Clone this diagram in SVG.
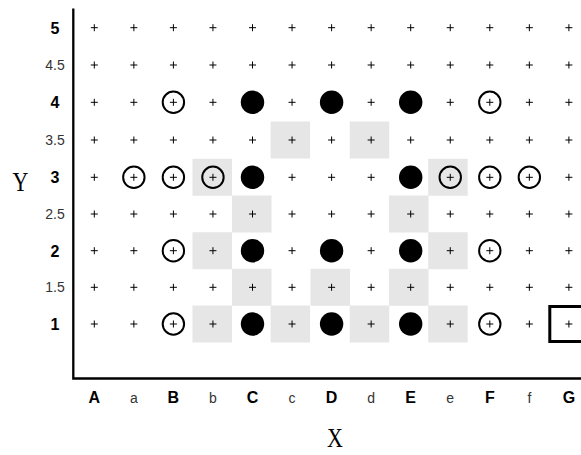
<svg xmlns="http://www.w3.org/2000/svg" xmlns:xlink="http://www.w3.org/1999/xlink" width="581" height="455" viewBox="0 0 581 455">
<style>
.g{fill:#e6e6e6}
.b{fill:#000}
.o{fill:none;stroke:#000;stroke-width:2}
.ax{stroke:#000;stroke-width:2.3;fill:none}
.maj{font-family:"Liberation Sans",Arial,sans-serif;font-weight:bold;font-size:16px;fill:#000;text-anchor:middle}
.min{font-family:"Liberation Sans",Arial,sans-serif;font-size:14px;fill:#333;text-anchor:middle}
.ttl{font-family:"Liberation Serif","Times New Roman",serif;font-size:22px;fill:#000;text-anchor:middle}
</style>
<defs>
<path id="p" d="M-3.5,0H3.5M0,-3.5V3.5" stroke="#000" stroke-width="1" fill="none"/>
</defs>
<rect width="581" height="455" fill="#fff"/>
<g id="shading">
<rect class="g" x="270.6" y="121.5" width="39.5" height="37"/>
<rect class="g" x="349.7" y="121.5" width="39.5" height="37"/>
<rect class="g" x="192.5" y="158.8" width="39.5" height="37"/>
<rect class="g" x="428.2" y="158.8" width="39.5" height="37"/>
<rect class="g" x="232" y="195.5" width="39.5" height="37"/>
<rect class="g" x="389" y="195.5" width="39.5" height="37"/>
<rect class="g" x="192.5" y="232.2" width="39.5" height="37"/>
<rect class="g" x="428.2" y="232.2" width="39.5" height="37"/>
<rect class="g" x="232" y="268.8" width="39.5" height="37"/>
<rect class="g" x="310.5" y="268.8" width="39.5" height="37"/>
<rect class="g" x="389" y="268.8" width="39.5" height="37"/>
<rect class="g" x="192.5" y="305.5" width="39.5" height="37"/>
<rect class="g" x="270.6" y="305.5" width="39.5" height="37"/>
<rect class="g" x="349.7" y="305.5" width="39.5" height="37"/>
<rect class="g" x="428.2" y="305.5" width="39.5" height="37"/>
</g>
<g id="grid">
<g transform="translate(94.3,0)"><use href="#p" y="27.7"/><use href="#p" y="65"/><use href="#p" y="102.3"/><use href="#p" y="140"/><use href="#p" y="177.3"/><use href="#p" y="214"/><use href="#p" y="250.7"/><use href="#p" y="287.3"/><use href="#p" y="324"/></g>
<g transform="translate(133.85,0)"><use href="#p" y="27.7"/><use href="#p" y="65"/><use href="#p" y="102.3"/><use href="#p" y="140"/><use href="#p" y="177.3"/><use href="#p" y="214"/><use href="#p" y="250.7"/><use href="#p" y="287.3"/><use href="#p" y="324"/></g>
<g transform="translate(173.4,0)"><use href="#p" y="27.7"/><use href="#p" y="65"/><use href="#p" y="102.3"/><use href="#p" y="140"/><use href="#p" y="177.3"/><use href="#p" y="214"/><use href="#p" y="250.7"/><use href="#p" y="287.3"/><use href="#p" y="324"/></g>
<g transform="translate(212.95,0)"><use href="#p" y="27.7"/><use href="#p" y="65"/><use href="#p" y="102.3"/><use href="#p" y="140"/><use href="#p" y="177.3"/><use href="#p" y="214"/><use href="#p" y="250.7"/><use href="#p" y="287.3"/><use href="#p" y="324"/></g>
<g transform="translate(252.5,0)"><use href="#p" y="27.7"/><use href="#p" y="65"/><use href="#p" y="140"/><use href="#p" y="214"/><use href="#p" y="287.3"/></g>
<g transform="translate(292.05,0)"><use href="#p" y="27.7"/><use href="#p" y="65"/><use href="#p" y="102.3"/><use href="#p" y="140"/><use href="#p" y="177.3"/><use href="#p" y="214"/><use href="#p" y="250.7"/><use href="#p" y="287.3"/><use href="#p" y="324"/></g>
<g transform="translate(331.6,0)"><use href="#p" y="27.7"/><use href="#p" y="65"/><use href="#p" y="140"/><use href="#p" y="177.3"/><use href="#p" y="214"/><use href="#p" y="287.3"/></g>
<g transform="translate(371.15,0)"><use href="#p" y="27.7"/><use href="#p" y="65"/><use href="#p" y="102.3"/><use href="#p" y="140"/><use href="#p" y="177.3"/><use href="#p" y="214"/><use href="#p" y="250.7"/><use href="#p" y="287.3"/><use href="#p" y="324"/></g>
<g transform="translate(410.7,0)"><use href="#p" y="27.7"/><use href="#p" y="65"/><use href="#p" y="140"/><use href="#p" y="214"/><use href="#p" y="287.3"/></g>
<g transform="translate(450.25,0)"><use href="#p" y="27.7"/><use href="#p" y="65"/><use href="#p" y="102.3"/><use href="#p" y="140"/><use href="#p" y="177.3"/><use href="#p" y="214"/><use href="#p" y="250.7"/><use href="#p" y="287.3"/><use href="#p" y="324"/></g>
<g transform="translate(489.8,0)"><use href="#p" y="27.7"/><use href="#p" y="65"/><use href="#p" y="102.3"/><use href="#p" y="140"/><use href="#p" y="177.3"/><use href="#p" y="214"/><use href="#p" y="250.7"/><use href="#p" y="287.3"/><use href="#p" y="324"/></g>
<g transform="translate(529.35,0)"><use href="#p" y="27.7"/><use href="#p" y="65"/><use href="#p" y="102.3"/><use href="#p" y="140"/><use href="#p" y="177.3"/><use href="#p" y="214"/><use href="#p" y="250.7"/><use href="#p" y="287.3"/><use href="#p" y="324"/></g>
<g transform="translate(568.9,0)"><use href="#p" y="27.7"/><use href="#p" y="65"/><use href="#p" y="102.3"/><use href="#p" y="140"/><use href="#p" y="177.3"/><use href="#p" y="214"/><use href="#p" y="250.7"/><use href="#p" y="287.3"/><use href="#p" y="324"/></g>
</g>
<g id="filled">
<circle class="b" cx="252.5" cy="102.3" r="11.7"/>
<circle class="b" cx="331.6" cy="102.3" r="11.7"/>
<circle class="b" cx="410.7" cy="102.3" r="11.7"/>
<circle class="b" cx="252.5" cy="177.3" r="11.7"/>
<circle class="b" cx="410.7" cy="177.3" r="11.7"/>
<circle class="b" cx="252.5" cy="250.7" r="11.7"/>
<circle class="b" cx="331.6" cy="250.7" r="11.7"/>
<circle class="b" cx="410.7" cy="250.7" r="11.7"/>
<circle class="b" cx="252.5" cy="324" r="11.7"/>
<circle class="b" cx="331.6" cy="324" r="11.7"/>
<circle class="b" cx="410.7" cy="324" r="11.7"/>
</g>
<g id="open">
<circle class="o" cx="173.4" cy="102.3" r="10.7"/>
<circle class="o" cx="489.8" cy="102.3" r="10.7"/>
<circle class="o" cx="133.85" cy="177.3" r="10.7"/>
<circle class="o" cx="173.4" cy="177.3" r="10.7"/>
<circle class="o" cx="212.95" cy="177.3" r="10.7"/>
<circle class="o" cx="450.25" cy="177.3" r="10.7"/>
<circle class="o" cx="489.8" cy="177.3" r="10.7"/>
<circle class="o" cx="529.35" cy="177.3" r="10.7"/>
<circle class="o" cx="173.4" cy="250.7" r="10.7"/>
<circle class="o" cx="489.8" cy="250.7" r="10.7"/>
<circle class="o" cx="173.4" cy="324" r="10.7"/>
<circle class="o" cx="489.8" cy="324" r="10.7"/>
</g>
<g id="target">
<rect x="549.8" y="306.5" width="40" height="35" fill="none" stroke="#000" stroke-width="3"/>
</g>
<g id="axes">
<path class="ax" d="M73.3,8.5V378.5H581"/>
</g>
<g id="ylabels">
<text class="maj" x="55" y="33.5">5</text>
<text class="min" x="55" y="70">4.5</text>
<text class="maj" x="55" y="108.1">4</text>
<text class="min" x="55" y="145">3.5</text>
<text class="maj" x="55" y="183.1">3</text>
<text class="min" x="55" y="219">2.5</text>
<text class="maj" x="55" y="256.5">2</text>
<text class="min" x="55" y="292.3">1.5</text>
<text class="maj" x="55" y="329.8">1</text>
</g>
<g id="xlabels">
<text class="maj" x="94.3" y="403.3">A</text>
<text class="min" x="133.85" y="403.3">a</text>
<text class="maj" x="173.4" y="403.3">B</text>
<text class="min" x="212.95" y="403.3">b</text>
<text class="maj" x="252.5" y="403.3">C</text>
<text class="min" x="292.05" y="403.3">c</text>
<text class="maj" x="331.6" y="403.3">D</text>
<text class="min" x="371.15" y="403.3">d</text>
<text class="maj" x="410.7" y="403.3">E</text>
<text class="min" x="450.25" y="403.3">e</text>
<text class="maj" x="489.8" y="403.3">F</text>
<text class="min" x="529.35" y="403.3">f</text>
<text class="maj" x="568.9" y="403.3">G</text>
</g>
<g id="titles">
<text class="ttl" transform="translate(20.5,190.5) scale(1,1.22)">Y</text>
<text class="ttl" transform="translate(335,447) scale(1,1.22)">X</text>
</g>
</svg>
